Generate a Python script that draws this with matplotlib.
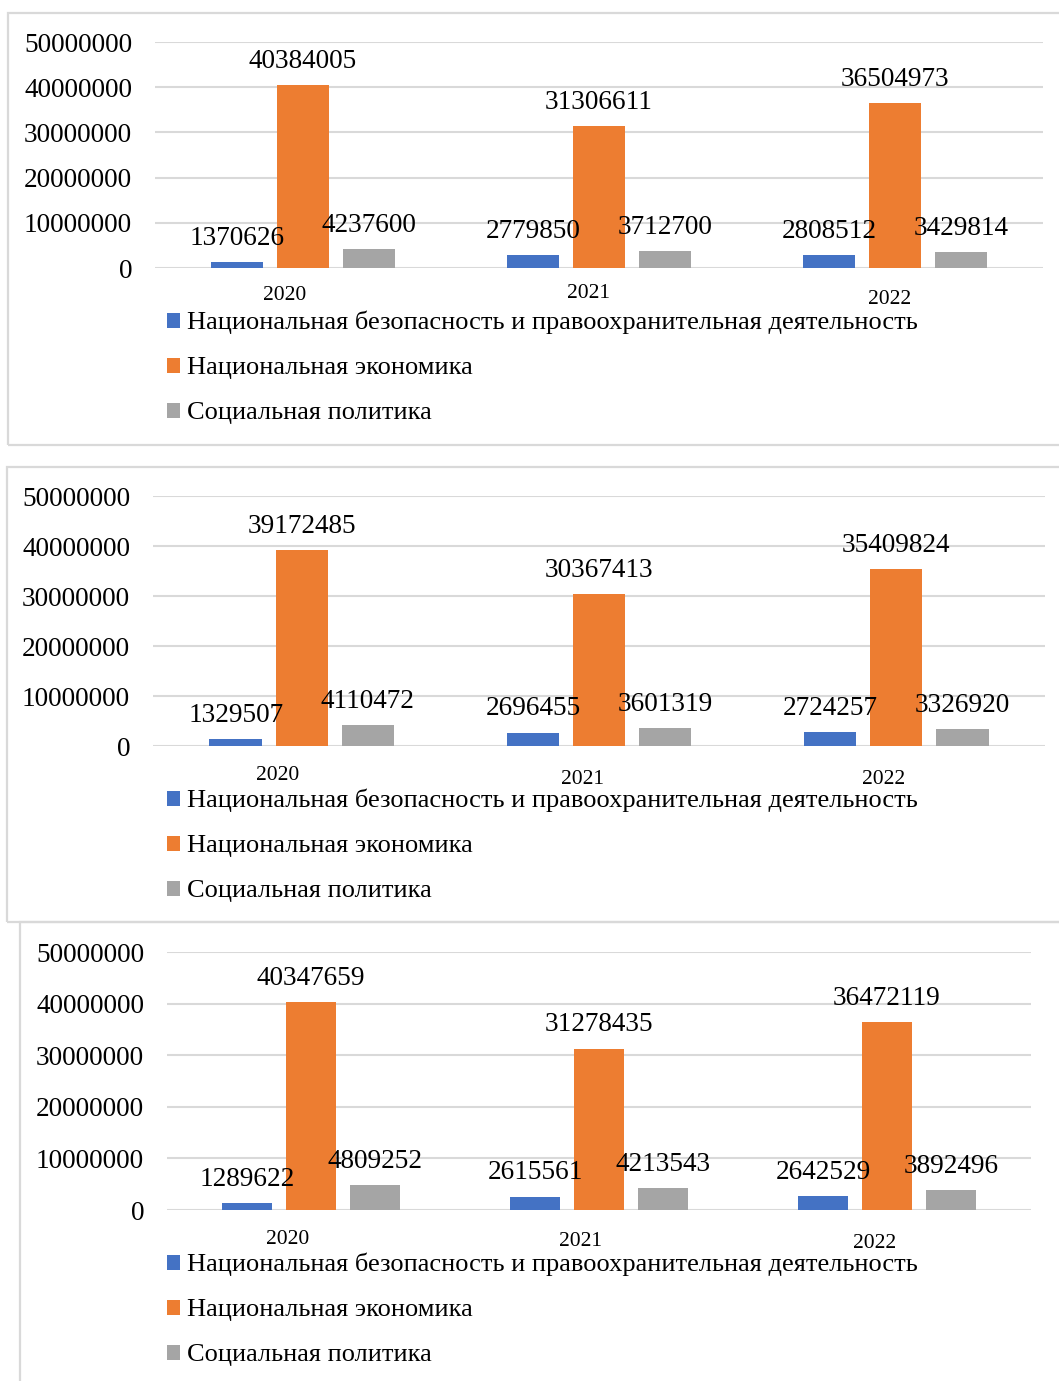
import matplotlib
matplotlib.use("Agg")
import matplotlib.pyplot as plt
from matplotlib.patches import Rectangle, Patch
from matplotlib.transforms import ScaledTranslation
import numpy as np

plt.rcParams['font.family'] = ['Liberation Serif', 'DejaVu Serif']

# ---- data -------------------------------------------------------------
years = ['2020', '2021', '2022']
series_names = [
    'Национальная безопасность и правоохранительная деятельность',
    'Национальная экономика',
    'Социальная политика',
]
colors = ['#4472C4', '#ED7D31', '#A5A5A5']

security_1 = [1370626, 2779850, 2808512]
economy_1 = [40384005, 31306611, 36504973]
social_1 = [4237600, 3712700, 3429814]

security_2 = [1329507, 2696455, 2724257]
economy_2 = [39172485, 30367413, 35409824]
social_2 = [4110472, 3601319, 3326920]

security_3 = [1289622, 2615561, 2642529]
economy_3 = [40347659, 31278435, 36472119]
social_3 = [4809252, 4213543, 3892496]

y_ticks = [0, 10000000, 20000000, 30000000, 40000000, 50000000]

# ---- layout (pixels) ---------------------------------------------------
W, H = 1059, 1381
DPI = 100
fig = plt.figure(figsize=(W / DPI, H / DPI), dpi=DPI)
fig.patch.set_facecolor('white')

GRID = '#d9d9d9'


def px_axes(x0, y_top, x1, y_bot):
    return fig.add_axes([x0 / W, 1 - y_bot / H, (x1 - x0) / W, (y_bot - y_top) / H])


def frame(x0, y0, x1, y1):
    fig.patches.append(Rectangle((x0 / W, 1 - y1 / H), (x1 - x0) / W, (y1 - y0) / H,
                                 transform=fig.transFigure, fill=False,
                                 edgecolor=GRID, linewidth=1.6, zorder=0))


panels = [
    dict(data=(security_1, economy_1, social_1), box=(155, 42, 1043, 268),
         year_off=[(-18, 27), (-11, 26), (-5, 32)], legend_xy=(167, 311)),
    dict(data=(security_2, economy_2, social_2), box=(153, 496, 1045, 746),
         year_off=[(-24, 30), (-17, 33), (-13, 33)], legend_xy=(167, 789)),
    dict(data=(security_3, economy_3, social_3), box=(167, 952, 1031, 1210),
         year_off=[(-23, 30), (-18, 32), (-12, 34)], legend_xy=(167, 1253)),
]

frame(8, 13, 1075, 445)
frame(7, 467, 1075, 922)
frame(20, 922, 1075, 1400)

FS = 19.6
LEG_FS = 19
bar_w = 0.176
step = 0.222
x = np.arange(len(years))

for p in panels:
    ax = px_axes(*p['box'])
    for i, (vals, col) in enumerate(zip(p['data'], colors)):
        xs = x + (i - 1) * step
        bars = ax.bar(xs, vals, width=bar_w, color=col, zorder=3, label=series_names[i])
        for b, v in zip(bars, vals):
            ax.annotate(f'{v}', (b.get_x() + b.get_width() / 2, v),
                        xytext=(0, 17.0), textcoords='offset points',
                        ha='center', va='center', fontsize=FS, color='black', zorder=5)
    ax.set_xlim(-0.5, 2.5)
    ax.set_ylim(0, 50000000)
    ax.set_yticks(y_ticks)
    ax.set_yticklabels([str(t) for t in y_ticks], fontsize=FS)
    ax.yaxis.grid(True, color=GRID, linewidth=1.5, zorder=0)
    ax.set_axisbelow(True)
    ax.tick_params(axis='y', length=0, pad=16.5)
    for s in ax.spines.values():
        s.set_visible(False)
    ax.set_xticks(x)
    ax.set_xticklabels(years, fontsize=15.5)
    ax.tick_params(axis='x', length=0, pad=0)
    for lab, (dx, dy) in zip(ax.get_xticklabels(), p['year_off']):
        lab.set_verticalalignment('center')
        lab.set_transform(lab.get_transform() +
                          ScaledTranslation(dx / DPI, -dy / DPI, fig.dpi_scale_trans))
    handles = [Patch(facecolor=c) for c in colors]
    lx, ly = p['legend_xy']
    fig.legend(handles, series_names, loc='upper left',
               bbox_to_anchor=(lx / W, 1 - ly / H), frameon=False, fontsize=LEG_FS,
               handlelength=0.5, handleheight=0.5, handletextpad=0.25,
               labelspacing=0.87, borderpad=0, borderaxespad=0)

fig.savefig('out.png', dpi=DPI)
